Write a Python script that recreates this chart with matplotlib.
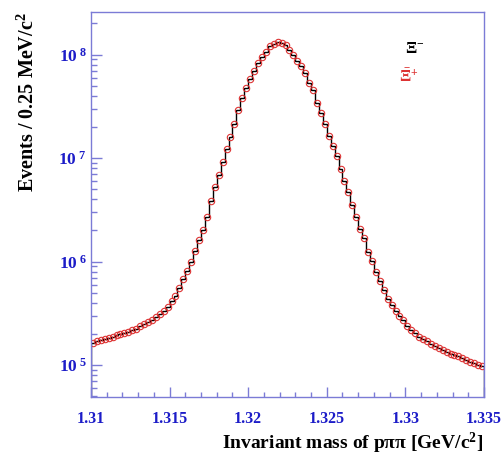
import matplotlib
matplotlib.use("Agg")
import matplotlib.pyplot as plt
import numpy as np
from matplotlib.ticker import FixedLocator, MultipleLocator, NullFormatter

# ---- data ----
x_min, x_max = 1.31, 1.335
bin_width = 0.00025
xi_minus = [
    1.65e5, 1.69e5, 1.74e5, 1.78e5, 1.83e5, 1.87e5, 1.93e5, 1.99e5, 2.03e5, 2.10e5,
    2.16e5, 2.24e5, 2.37e5, 2.48e5, 2.60e5, 2.75e5, 2.89e5, 3.08e5, 3.34e5, 3.61e5,
    4.13e5, 4.69e5, 5.56e5, 6.75e5, 8.05e5, 9.93e5, 1.26e6, 1.62e6, 2.04e6, 2.69e6,
    3.85e6, 5.20e6, 6.92e6, 9.23e6, 1.22e7, 1.60e7, 2.12e7, 2.94e7, 3.81e7, 4.73e7,
    5.75e7, 6.98e7, 8.33e7, 9.49e7, 1.06e8, 1.21e8, 1.28e8, 1.32e8, 1.30e8, 1.24e8,
    1.11e8, 9.95e7, 8.61e7, 7.71e7, 6.62e7, 5.36e7, 4.52e7, 3.40e7, 2.70e7, 2.13e7,
    1.65e7, 1.32e7, 1.05e7, 7.80e6, 5.94e6, 4.69e6, 3.53e6, 2.72e6, 2.05e6, 1.68e6,
    1.24e6, 1.02e6, 8.00e5, 6.52e5, 5.28e5, 4.35e5, 3.82e5, 3.32e5, 2.95e5, 2.70e5,
    2.40e5, 2.19e5, 2.05e5, 1.88e5, 1.77e5, 1.69e5, 1.61e5, 1.54e5, 1.47e5, 1.40e5,
    1.34e5, 1.29e5, 1.25e5, 1.21e5, 1.16e5, 1.12e5, 1.08e5, 1.045e5, 1.01e5, 9.78e4,
]
xi_plus_bar = list(xi_minus)
x_ticks = [1.31, 1.315, 1.32, 1.325, 1.33, 1.335]
x_tick_labels = ["1.31", "1.315", "1.32", "1.325", "1.33", "1.335"]
y_ticks = [1e5, 1e6, 1e7, 1e8]
y_exps = [5, 6, 7, 8]

# ---- style ----
plt.rcParams["font.family"] = ["Liberation Serif", "DejaVu Serif"]
plt.rcParams["font.weight"] = "bold"
plt.rcParams["mathtext.fontset"] = "custom"
plt.rcParams["mathtext.rm"] = "Liberation Serif:bold"
plt.rcParams["mathtext.it"] = "Liberation Serif:bold:italic"
plt.rcParams["mathtext.bf"] = "Liberation Serif:bold"

axis_col = "#7b7bd6"
tick_text_col = "#1c1cc8"
red = "#dd3333"

fig = plt.figure(figsize=(5.01, 4.57), dpi=100)
ax = fig.add_axes([0.1816, 0.1313, 0.966 - 0.1816, 0.9737 - 0.1313])

edges = x_min + bin_width * np.arange(len(xi_minus) + 1)
centers = 0.5 * (edges[:-1] + edges[1:])

ax.stairs(xi_minus, edges, color="black", lw=1.0)
ax.plot(centers, xi_plus_bar, ls="none", marker="o", ms=4.6, mfc="none",
        mec=red, mew=0.8)

ax.set_yscale("log")
ax.set_xlim(x_min, x_max)
ax.set_ylim(4.91e4, 2.58e8)

ax.xaxis.set_major_locator(FixedLocator(x_ticks))
ax.xaxis.set_minor_locator(MultipleLocator(0.001))
ax.set_xticklabels(x_tick_labels)
ax.yaxis.set_major_locator(FixedLocator(y_ticks))
ax.set_yticklabels([r"$10^{\ %d}$" % e for e in y_exps])
ax.yaxis.set_minor_formatter(NullFormatter())

for s in ax.spines.values():
    s.set_color(axis_col)
    s.set_linewidth(1.0)

ax.tick_params(axis="both", which="both", direction="in", color=axis_col,
               top=False, right=False)
ax.tick_params(axis="x", which="major", length=7, width=1.0, pad=10,
               labelsize=11.5, labelcolor=tick_text_col)
ax.tick_params(axis="x", which="minor", length=3.5, width=1.0)
ax.tick_params(axis="y", which="major", length=8, width=1.0, pad=3,
               labelsize=12.5, labelcolor=tick_text_col)
ax.tick_params(axis="y", which="minor", length=4, width=1.0)
for lbl in ax.get_xticklabels() + ax.get_yticklabels():
    lbl.set_fontweight("bold")

fig.text(0.964, 0.003, "Invariant mass of pππ [GeV/c$^{2}$]",
         ha="right", va="bottom", fontsize=14, fontweight="bold", color="black")
fig.text(0.056, 0.9737, r"Events / 0.25 MeV/c$^{2}$", rotation=90,
         ha="center", va="top", fontsize=14.5, fontweight="bold", color="black")

ax.text(0.80, 0.905, r"$\Xi^{-}$", transform=ax.transAxes, color="black",
        fontsize=12, ha="left", va="center")
ax.text(0.785, 0.83, r"$\bar{\Xi}^{+}$", transform=ax.transAxes, color=red,
        fontsize=12, ha="left", va="center")

fig.savefig("out.png", dpi=100)
